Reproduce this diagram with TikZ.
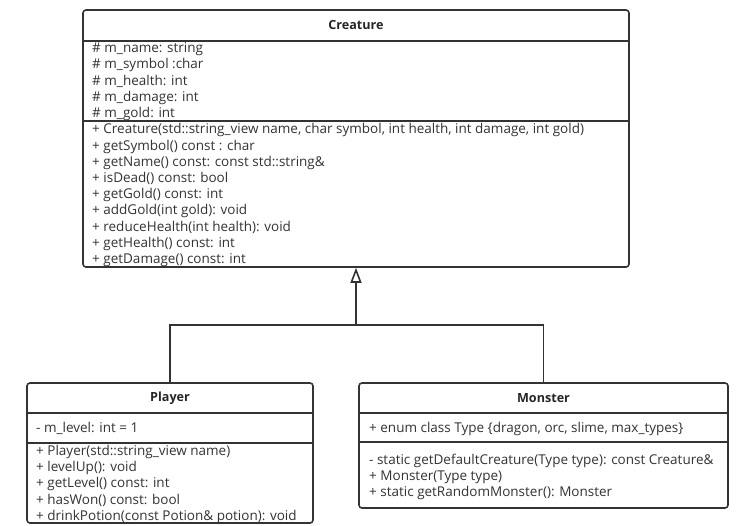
\documentclass[tikz,border=0pt]{standalone}
\usepackage{fontspec}
\setmainfont{Open Sans}
\usetikzlibrary{arrows.meta,positioning}

\begin{document}
\begin{tikzpicture}[x=1pt,y=-1pt]
		\tikzstyle{Class}	= [draw=black!80, line width=1.6pt, rounded corners=3pt, inner sep=0pt]
		\tikzstyle{Title}	= [font=\fontsize{12.6}{14}\selectfont\bfseries, text=black!85]
		\tikzstyle{Members}	= [anchor=north west, align=left, inner sep=0pt, font=\fontsize{13.5}{16.2}\selectfont, text=black!80]
		\tikzstyle{Divider}	= [black!80, line width=1.3pt]
		\tikzstyle{Inherit}	= [black!80, line width=1.6pt]

		\useasboundingbox (0,0) rectangle (749,525);

		% class boxes
		\node (creature) at (356,138.5) [Class, minimum width=546, minimum height=257] {};
		\node (player) at (170,453) [Class, minimum width=286, minimum height=140] {};
		\node (monster) at (543.5,445.5) [Class, minimum width=369, minimum height=125] {};

		\node (creatureTitle) at (356,25) [Title] {Creature};
		\node (playerTitle) at (170,398) [Title] {Player};
		\node (monsterTitle) at (543.5,398) [Title] {Monster};

		\draw [Divider] (creature.west |- 0,41) -- (creature.east |- 0,41);
		\draw [Divider] (creature.west |- 0,121) -- (creature.east |- 0,121);
		\draw [Divider] (player.west |- 0,413) -- (player.east |- 0,413);
		\draw [Divider] (player.west |- 0,443) -- (player.east |- 0,443);
		\draw [Divider] (monster.west |- 0,413) -- (monster.east |- 0,413);
		\draw [Divider] (monster.west |- 0,442) -- (monster.east |- 0,442);

		% members
		\node (creatureAttrs) at (92,42.5) [Members] {\# m\_name: string\\\# m\_symbol :char\\\# m\_health: int\\\# m\_damage: int\\\# m\_gold: int};
		\node (creatureOps) at (92,123.5) [Members] {+ Creature(std::string\_view name, char symbol, int health, int damage, int gold)\\+ getSymbol() const : char\\+ getName() const: const std::string\&\\+ isDead() const: bool\\+ getGold() const: int\\+ addGold(int gold): void\\+ reduceHealth(int health): void\\+ getHealth() const: int\\+ getDamage() const: int};
		\node (playerAttrs) at (36,422) [Members] {- m\_level: int = 1};
		\node (playerOps) at (36,445) [Members] {+ Player(std::string\_view name)\\+ levelUp(): void\\+ getLevel() const: int\\+ hasWon() const: bool\\+ drinkPotion(const Potion\& potion): void};
		\node (monsterAttrs) at (369,422) [Members] {+ enum class Type \{dragon, orc, slime, max\_types\}};
		\node (monsterOps) at (369,454) [Members] {- static getDefaultCreature(Type type): const Creature\&\\+ Monster(Type type)\\+ static getRandomMonster(): Monster};

		% inheritance
		\coordinate (join) at (356,325);
		\draw [Inherit] (player.north) |- (join) -| (monster.north);
		\draw [Inherit, -{Triangle[open, length=15pt, width=11pt]}] (join) to (creature.south);
	\end{tikzpicture}
\end{document}
